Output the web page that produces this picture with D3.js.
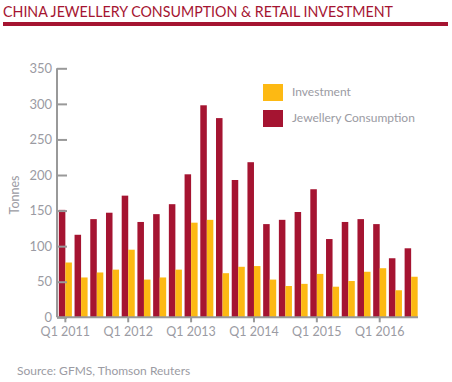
<!DOCTYPE html>
<html>
<head>
<meta charset="utf-8">
<script src="https://cdn.jsdelivr.net/npm/d3@7"></script>
<style>
  body { margin: 0; background: #fff; }
  svg text { font-family: Lato, "Open Sans", sans-serif; }
</style>
</head>
<body>
<script>
// quarters shown on the x axis
var quarters = ["Q1 2011", "Q2 2011", "Q3 2011", "Q4 2011",
                "Q1 2012", "Q2 2012", "Q3 2012", "Q4 2012",
                "Q1 2013", "Q2 2013", "Q3 2013", "Q4 2013",
                "Q1 2014", "Q2 2014", "Q3 2014", "Q4 2014",
                "Q1 2015", "Q2 2015", "Q3 2015", "Q4 2015",
                "Q1 2016", "Q2 2016", "Q3 2016"];

// tonnes
var jewellery = [151, 116, 138, 147, 171, 134, 145, 159, 201, 298, 280, 193,
                 218, 131, 137, 148, 180, 110, 134, 138, 131, 83, 97];
var investment = [77, 56, 63, 67, 95, 53, 56, 67, 133, 137, 62, 71,
                  72, 53, 44, 47, 61, 43, 51, 64, 69, 38, 57];

var seriesNames = ["Jewellery Consumption", "Investment"];
var legendNames = ["Investment", "Jewellery Consumption"];
var yTicks = [0, 50, 100, 150, 200, 250, 300, 350];
var xTickLabels = ["Q1 2011", "Q1 2012", "Q1 2013", "Q1 2014", "Q1 2015", "Q1 2016"];

var svg_width = 452;
var svg_height = 382;

var red = "#a51431";
var yellow = "#fdb913";
var grey = "#9b9ba3";
var axisGrey = "#999999";

var colorOf = function(name) {
  return name == "Investment" ? yellow : red;
};

var svg = d3.select("body").append("svg")
  .attr("width", svg_width)
  .attr("height", svg_height);

// title and red rule underneath
svg.append("text")
  .text("CHINA JEWELLERY CONSUMPTION & RETAIL INVESTMENT")
  .attr("x", 3)
  .attr("y", 16.5)
  .attr("fill", red)
  .attr("textLength", 390)
  .attr("lengthAdjust", "spacingAndGlyphs")
  .style("font-size", "15.5px");

svg.append("rect")
  .attr("x", 3)
  .attr("y", 22)
  .attr("width", 445)
  .attr("height", 4)
  .attr("fill", red);

// scales
var xScale = d3.scaleBand()
  .domain(quarters)
  .range([57.5, 419])
  .paddingInner(0.17)
  .paddingOuter(0.085);

var xInner = d3.scaleBand()
  .domain(seriesNames)
  .range([0, xScale.bandwidth()]);

var yScale = d3.scaleLinear()
  .domain([0, 350])
  .range([317.3, 68.3]);

// bars
var rows = quarters.map(function(q, i) {
  return { quarter: q, values: [
    { name: "Jewellery Consumption", value: jewellery[i] },
    { name: "Investment", value: investment[i] }
  ]};
});

var groups = svg.selectAll("g.group")
  .data(rows)
  .enter()
  .append("g")
  .attr("class", "group")
  .attr("transform", d => "translate(" + xScale(d.quarter) + ",0)");

groups.selectAll("rect")
  .data(d => d.values)
  .enter()
  .append("rect")
  .attr("x", d => xInner(d.name))
  .attr("width", xInner.bandwidth())
  .attr("y", d => yScale(d.value))
  .attr("height", d => yScale(0) - yScale(d.value))
  .attr("fill", d => colorOf(d.name));

// y axis, ticks pointing into the plot
var yaxis = d3.axisRight(yScale)
  .tickValues(yTicks)
  .tickSize(10)
  .tickFormat(d3.format("d"));

var yg = svg.append("g")
  .attr("transform", "translate(57,0)")
  .call(yaxis);

yg.select(".domain").attr("stroke", axisGrey).attr("stroke-width", 2)
  .attr("d", "M0," + yScale(350) + "V" + yScale(0));
yg.selectAll(".tick line").attr("stroke", axisGrey).attr("stroke-width", 2);
yg.selectAll(".tick text")
  .attr("x", -5)
  .attr("text-anchor", "end")
  .attr("fill", grey)
  .style("font-size", "13px");

// x axis
var xaxis = d3.axisBottom(xScale)
  .tickValues(xTickLabels)
  .tickSize(5)
  .tickSizeOuter(0);

var xg = svg.append("g")
  .attr("transform", "translate(0," + yScale(0) + ")")
  .call(xaxis);

xg.select(".domain").attr("stroke", axisGrey).attr("stroke-width", 2)
  .attr("d", "M57,0H418");
xg.selectAll(".tick line").attr("stroke", axisGrey).attr("stroke-width", 2);
xg.selectAll(".tick text")
  .attr("y", 10)
  .attr("fill", grey)
  .style("font-size", "12.5px");

// y axis title
svg.append("text")
  .attr("text-anchor", "middle")
  .attr("transform", "translate(19,195) rotate(-90)")
  .attr("fill", grey)
  .style("font-size", "12.5px")
  .text("Tonnes");

// legend
svg.selectAll(".legend-box")
  .data(legendNames)
  .enter()
  .append("rect")
  .attr("class", "legend-box")
  .attr("x", 263)
  .attr("y", (d, i) => 84 + i * 26)
  .attr("width", 20)
  .attr("height", 17)
  .attr("fill", d => colorOf(d));

svg.selectAll(".legend-text")
  .data(legendNames)
  .enter()
  .append("text")
  .attr("class", "legend-text")
  .attr("x", 292)
  .attr("y", (d, i) => 96 + i * 26)
  .attr("fill", grey)
  .style("font-size", "12px")
  .text(d => d);

// source note
svg.append("text")
  .attr("x", 17)
  .attr("y", 375)
  .attr("fill", grey)
  .style("font-size", "12px")
  .text("Source: GFMS, Thomson Reuters");
</script>
</body>
</html>
